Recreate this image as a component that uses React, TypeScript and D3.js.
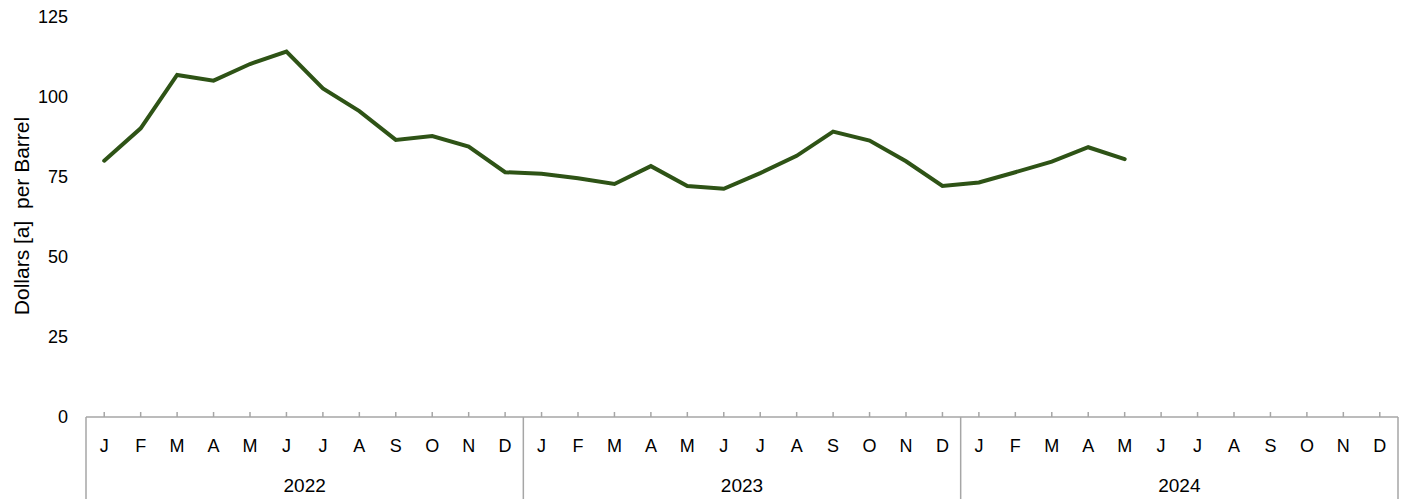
import React, { useEffect, useRef } from "react";
import * as d3 from "d3";

const years = ["2022", "2023", "2024"];
const monthLetters = ["J", "F", "M", "A", "M", "J", "J", "A", "S", "O", "N", "D"];
const yTicks = [0, 25, 50, 75, 100, 125];

// monthly price, dollars per barrel (Jan 2022 .. May 2024)
const prices2022 = [80.1, 90.2, 106.9, 105.1, 110.3, 114.2, 102.7, 95.6, 86.6, 87.8, 84.5, 76.5];
const prices2023 = [76.0, 74.6, 72.8, 78.4, 72.2, 71.3, 76.2, 81.6, 89.2, 86.4, 79.9, 72.2];
const prices2024 = [73.3, 76.5, 79.8, 84.3, 80.6];

const W = 1408;
const H = 499;
const margin = { top: 17, right: 10, bottom: 82, left: 86 };
const FONT = "'Liberation Sans', Arial, sans-serif";

const App = () => {
  const svgRef = useRef<SVGSVGElement>(null);

  useEffect(() => {
    const svg = d3.select(svgRef.current);
    svg.selectAll("*").remove();

    const cats: string[] = [];
    years.forEach((y) => monthLetters.forEach((m, i) => cats.push(`${y}-${i}`)));

    const x = d3
      .scaleBand()
      .domain(cats)
      .range([margin.left, W - margin.right])
      .paddingInner(0)
      .paddingOuter(0);

    const y = d3
      .scaleLinear()
      .domain([0, 125])
      .range([H - margin.bottom, margin.top]);

    const axisY = y(0);

    // y tick labels (no axis line)
    svg
      .append("g")
      .selectAll("text")
      .data(yTicks)
      .enter()
      .append("text")
      .attr("x", 68)
      .attr("y", (d) => y(d))
      .attr("dy", "0.35em")
      .attr("text-anchor", "end")
      .style("font-family", FONT)
      .style("font-size", "18px")
      .style("fill", "#000")
      .text((d) => d);

    // y axis title
    svg
      .append("text")
      .attr("transform", `translate(29,216) rotate(-90)`)
      .attr("text-anchor", "middle")
      .style("font-family", FONT)
      .style("font-size", "21px")
      .style("white-space", "pre")
      .text("Dollars [a]  per Barrel");

    // x axis line
    svg
      .append("line")
      .attr("x1", margin.left)
      .attr("x2", W - margin.right)
      .attr("y1", axisY)
      .attr("y2", axisY)
      .attr("stroke", "#a6a6a6")
      .attr("stroke-width", 1.5);

    // month ticks (upward, at category centre)
    svg
      .append("g")
      .selectAll("line")
      .data(cats)
      .enter()
      .append("line")
      .attr("x1", (d) => x(d)! + x.bandwidth() / 2)
      .attr("x2", (d) => x(d)! + x.bandwidth() / 2)
      .attr("y1", axisY - 5)
      .attr("y2", axisY)
      .attr("stroke", "#a6a6a6")
      .attr("stroke-width", 1.5);

    // month letters
    svg
      .append("g")
      .selectAll("text")
      .data(cats)
      .enter()
      .append("text")
      .attr("x", (d) => x(d)! + x.bandwidth() / 2)
      .attr("y", axisY + 35)
      .attr("text-anchor", "middle")
      .style("font-family", FONT)
      .style("font-size", "18px")
      .text((d) => monthLetters[+d.split("-")[1]]);

    // year separators
    const sepX = years.map((yr) => x(`${yr}-0`)!).concat([W - margin.right]);
    svg
      .append("g")
      .selectAll("line")
      .data(sepX)
      .enter()
      .append("line")
      .attr("x1", (d) => d)
      .attr("x2", (d) => d)
      .attr("y1", axisY)
      .attr("y2", H)
      .attr("stroke", "#a6a6a6")
      .attr("stroke-width", 1.5);

    // year labels
    svg
      .append("g")
      .selectAll("text")
      .data(years)
      .enter()
      .append("text")
      .attr("x", (d) => (x(`${d}-0`)! + x(`${d}-11`)! + x.bandwidth()) / 2)
      .attr("y", axisY + 75)
      .attr("text-anchor", "middle")
      .style("font-family", FONT)
      .style("font-size", "19px")
      .text((d) => d);

    // price line
    const series = [
      ...prices2022.map((v, i) => ({ c: `2022-${i}`, v })),
      ...prices2023.map((v, i) => ({ c: `2023-${i}`, v })),
      ...prices2024.map((v, i) => ({ c: `2024-${i}`, v })),
    ];

    const line = d3
      .line<{ c: string; v: number }>()
      .x((d) => x(d.c)! + x.bandwidth() / 2)
      .y((d) => y(d.v));

    svg
      .append("path")
      .datum(series)
      .attr("d", line)
      .attr("fill", "none")
      .attr("stroke", "#2e5316")
      .attr("stroke-width", 4)
      .attr("stroke-linejoin", "miter")
      .attr("stroke-linecap", "round");
  }, []);

  return (
    <div style={{ position: "fixed", left: 0, top: 0 }}>
      <svg ref={svgRef} width={W} height={H} style={{ display: "block", background: "#fff" }}></svg>
    </div>
  );
};

export default App;
